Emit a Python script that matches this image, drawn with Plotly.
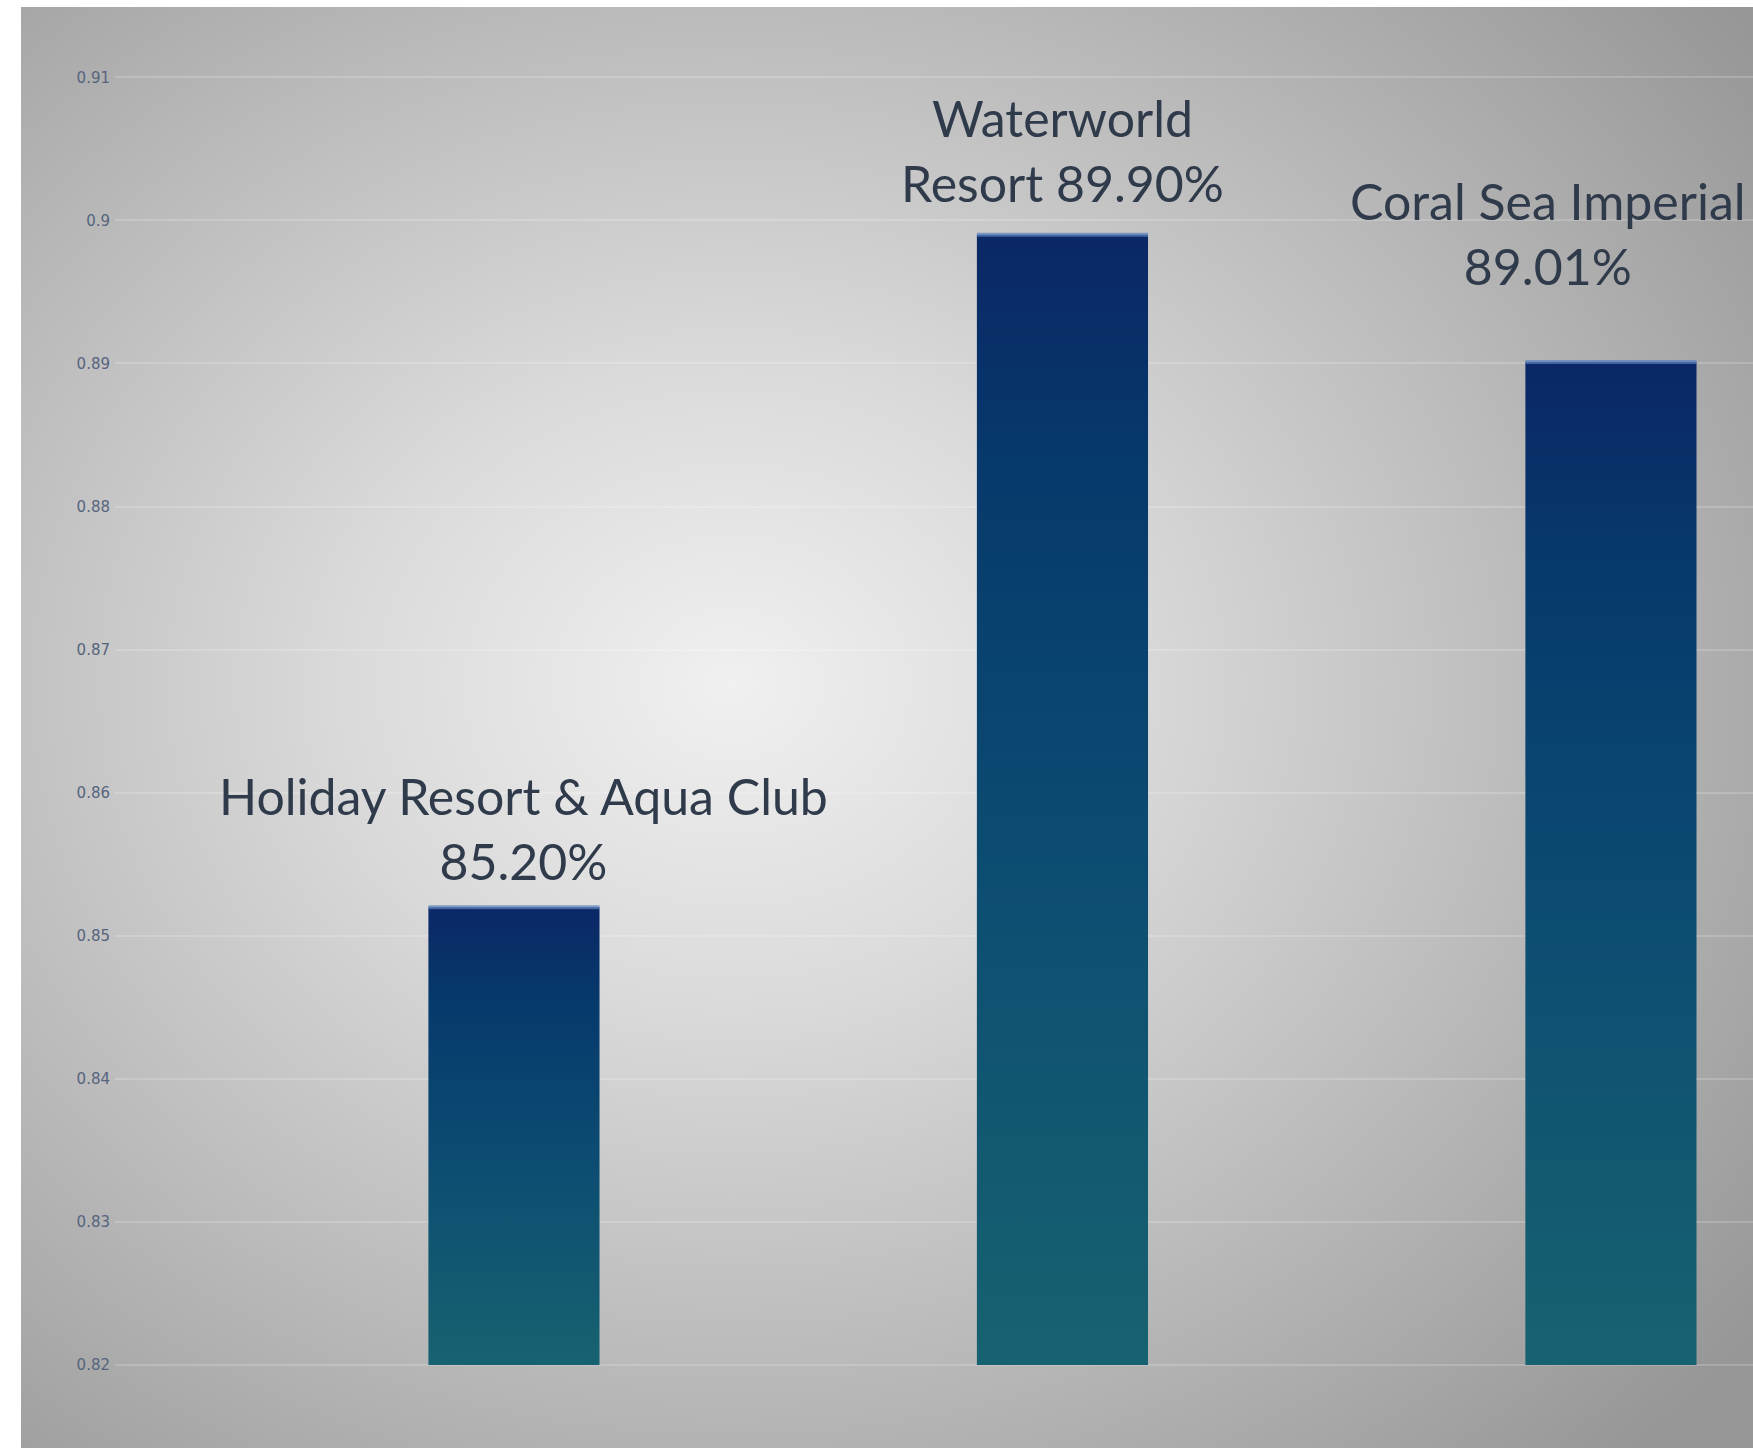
import base64
import plotly.graph_objects as go

# ---- data ----
categories = ["Holiday Resort & Aqua Club", "Waterworld Resort", "Coral Sea Imperial"]
values = [0.852, 0.899, 0.8901]
label_texts = ["Holiday Resort & Aqua Club<br>85.20%",
               "Waterworld<br>Resort 89.90%",
               "Coral Sea Imperial<br>89.01%"]
tick_vals = [0.82, 0.83, 0.84, 0.85, 0.86, 0.87, 0.88, 0.89, 0.90, 0.91]
tick_text = ["0.82", "0.83", "0.84", "0.85", "0.86", "0.87", "0.88", "0.89", "0.9", "0.91"]
base_value = 0.82

# ---- style ----
W, H = 1753, 1448
ML = 115
bar_width = 0.312
label_yshift = [14, 20, 64]
label_xshift = [10, 0, -63]
grad = [[0.0, "#176270"], [0.45, "#0c4c72"], [0.8, "#06396c"], [1.0, "#0b2766"]]

fig = go.Figure()
xpos = list(range(len(categories)))
for i, (xc, v) in enumerate(zip(xpos, values)):
    x0, x1 = xc - bar_width / 2, xc + bar_width / 2
    fig.add_trace(go.Scatter(
        x=[x0, x1, x1, x0, x0], y=[base_value, base_value, v, v, base_value],
        mode="lines", fill="toself", line=dict(width=0, color="rgba(0,0,0,0)"),
        fillgradient=dict(type="vertical", colorscale=grad),
        name=categories[i], showlegend=False, hoverinfo="skip"))
    fig.add_trace(go.Scatter(
        x=[x0, x1], y=[v, v], mode="lines",
        line=dict(width=4, color="rgba(90,130,190,0.7)"),
        showlegend=False, hoverinfo="skip"))
    fig.add_annotation(x=xc, y=v, text=label_texts[i], showarrow=False,
                       yanchor="bottom", xanchor="center",
                       yshift=label_yshift[i], xshift=label_xshift[i],
                       font=dict(family="Lato", size=50, color="#2f3a4b"))

# background radial gradient panel
svg = f'''<svg xmlns="http://www.w3.org/2000/svg" width="{W-21}" height="{H-7}">
<defs><radialGradient id="g" cx="0.41" cy="0.47" r="0.74">
<stop offset="0" stop-color="#f0f0f0"/>
<stop offset="0.3" stop-color="#dadada"/>
<stop offset="0.65" stop-color="#b9b9b9"/>
<stop offset="1" stop-color="#979797"/>
</radialGradient></defs>
<rect x="0" y="0" width="{W-21}" height="{H-7}" fill="url(#g)"/>
</svg>'''
src = "data:image/svg+xml;base64," + base64.b64encode(svg.encode()).decode()
pw = W - ML
fig.add_layout_image(dict(source=src, xref="paper", yref="paper",
                          x=(21 - ML) / pw, y=1 - 7 / H, sizex=(W - 21) / pw, sizey=(H - 7) / H,
                          xanchor="left", yanchor="top", sizing="stretch", layer="below"))

fig.update_layout(
    width=W, height=H, margin=dict(l=ML, r=0, t=0, b=0),
    paper_bgcolor="white", plot_bgcolor="rgba(0,0,0,0)",
    xaxis=dict(range=[-0.7274, 2.259], visible=False, fixedrange=True),
    yaxis=dict(range=[0.8142, 0.9154], tickvals=tick_vals, ticktext=tick_text,
               showgrid=True, gridcolor="rgba(255,255,255,0.18)", gridwidth=1.5,
               zeroline=False, showline=False, ticks="", ticklabelstandoff=4,
               tickfont=dict(family="DejaVu Sans", size=15, color="#56647e")),
    showlegend=False,
)
fig.write_html("out.html")
